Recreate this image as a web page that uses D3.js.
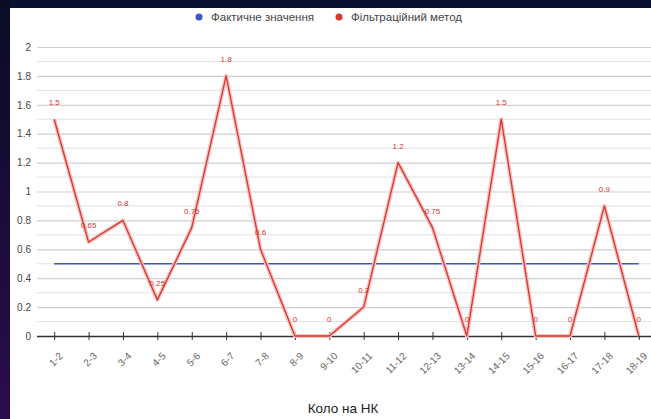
<!DOCTYPE html>
<html>
<head>
<meta charset="utf-8">
<script src="https://cdn.jsdelivr.net/npm/d3@7"></script>
<style>
  html, body { margin: 0; padding: 0; background: #0b0f2e; }
  svg { display: block; }
</style>
</head>
<body>
<svg id="chart" width="651" height="419"></svg>
<script>
// Segment labels along the x axis
const categories = ["1-2","2-3","3-4","4-5","5-6","6-7","7-8","8-9","9-10","10-11","11-12","12-13","13-14","14-15","15-16","16-17","17-18","18-19"];
// Filtration method estimates
const filterValues = [1.5,0.65,0.8,0.25,0.75,1.8,0.6,0,0,0.2,1.2,0.75,0,1.5,0,0,0.9,0];
// Actual value (constant)
const actualValues = categories.map(() => 0.5);
const yTicks = [0,0.2,0.4,0.6,0.8,1,1.2,1.4,1.6,1.8,2];
const yMinor = [0.1,0.3,0.5,0.7,0.9,1.1,1.3,1.5,1.7,1.9];
const seriesNames = ["Фактичне значення","Фільтраційний метод"];
const seriesColors = ["#3c55c8","#d8352e"];

const svg = d3.select("#chart");
const W = 651, H = 419;
const font = "Arial, 'Liberation Sans', sans-serif";

// dark frame: purple strip on the left, navy band on top
const defs = svg.append("defs");
const lg = defs.append("linearGradient").attr("id","leftStrip").attr("x1",0).attr("y1",0).attr("x2",0).attr("y2",1);
lg.append("stop").attr("offset","0%").attr("stop-color","#0a0c26");
lg.append("stop").attr("offset","100%").attr("stop-color","#2a0d4a");
svg.append("rect").attr("x",0).attr("y",0).attr("width",W).attr("height",H).attr("fill","#0a1030");
svg.append("rect").attr("x",0).attr("y",0).attr("width",10).attr("height",H).attr("fill","url(#leftStrip)");
svg.append("rect").attr("x",10).attr("y",8).attr("width",W-10).attr("height",H-8).attr("fill","#ffffff");

const plotLeft = 37, plotRight = 656, plotTop = 47, plotBottom = 336;
const x = d3.scalePoint().domain(categories).range([plotLeft, plotRight]).padding(0.5);
const y = d3.scaleLinear().domain([0, 2]).range([plotBottom, plotTop]);

const g = svg.append("g");

// minor gridlines
g.append("g").selectAll("line").data(yMinor).join("line")
  .attr("x1", plotLeft).attr("x2", W).attr("y1", d => y(d)).attr("y2", d => y(d))
  .attr("stroke", "#e2e2e2").attr("stroke-width", 1);

// major gridlines + labels
const yAxis = d3.axisLeft(y).tickValues(yTicks).tickSize(-(W - plotLeft)).tickFormat(d => d === 0 ? "0" : d3.format("")(d));
const ya = g.append("g").attr("transform", `translate(${plotLeft},0)`).call(yAxis);
ya.select(".domain").remove();
ya.selectAll(".tick line").attr("stroke", d => d === 0 ? "none" : "#cfcfcf").attr("stroke-width", 1.2);
ya.selectAll(".tick text").attr("x", -6).attr("fill", "#444").style("font-family", font).style("font-size", "10px");

// x axis
const xAxis = d3.axisBottom(x).tickSize(5).tickSizeOuter(0);
const xa = g.append("g").attr("transform", `translate(0,${plotBottom})`).call(xAxis);
xa.select(".domain").attr("d", `M${plotLeft},0.5H${W}`).attr("stroke", "#333").attr("stroke-width", 1.4);
xa.selectAll(".tick line").attr("y1", -4).attr("y2", 4).attr("stroke", "#333");
xa.selectAll(".tick text")
  .attr("text-anchor", "end").attr("dx", 0).attr("dy", 0)
  .attr("transform", "translate(3,15) rotate(-45)")
  .attr("fill", "#666").style("font-family", font).style("font-size", "10px");

// x axis title
svg.append("text").attr("x", 343).attr("y", 413).attr("text-anchor", "middle")
  .attr("fill", "#222").style("font-family", font).style("font-size", "13.5px")
  .text("Коло на НК");

const line = d3.line().x((d, i) => x(categories[i])).y(d => y(d));

// actual value line
g.append("path").datum(actualValues).attr("d", line)
  .attr("fill", "none").attr("stroke", seriesColors[0]).attr("stroke-width", 1.5);

// filtration method line, with soft halo
g.append("path").datum(filterValues).attr("d", line)
  .attr("fill", "none").attr("stroke", "#f6c2be").attr("stroke-width", 4).attr("stroke-linejoin", "round");
g.append("path").datum(filterValues).attr("d", line)
  .attr("fill", "none").attr("stroke", seriesColors[1]).attr("stroke-width", 1.3).attr("stroke-linejoin", "round");

// data labels
g.append("g").selectAll("text").data(filterValues).join("text")
  .attr("x", (d, i) => x(categories[i]))
  .attr("y", d => y(d) - 14)
  .attr("text-anchor", "middle")
  .attr("fill", "#d8352e")
  .style("font-family", font).style("font-size", "8px")
  .text(d => String(d));

// legend
const legend = svg.append("g").attr("transform", "translate(0,17)");
const legItems = [{x: 199, name: seriesNames[0], c: seriesColors[0]}, {x: 339, name: seriesNames[1], c: seriesColors[1]}];
legItems.forEach(it => {
  legend.append("circle").attr("cx", it.x).attr("cy", 0).attr("r", 3.5).attr("fill", it.c);
  legend.append("text").attr("x", it.x + 12).attr("y", 4)
    .attr("fill", "#444").style("font-family", font).style("font-size", "11.5px")
    .text(it.name);
});
</script>
</body>
</html>
